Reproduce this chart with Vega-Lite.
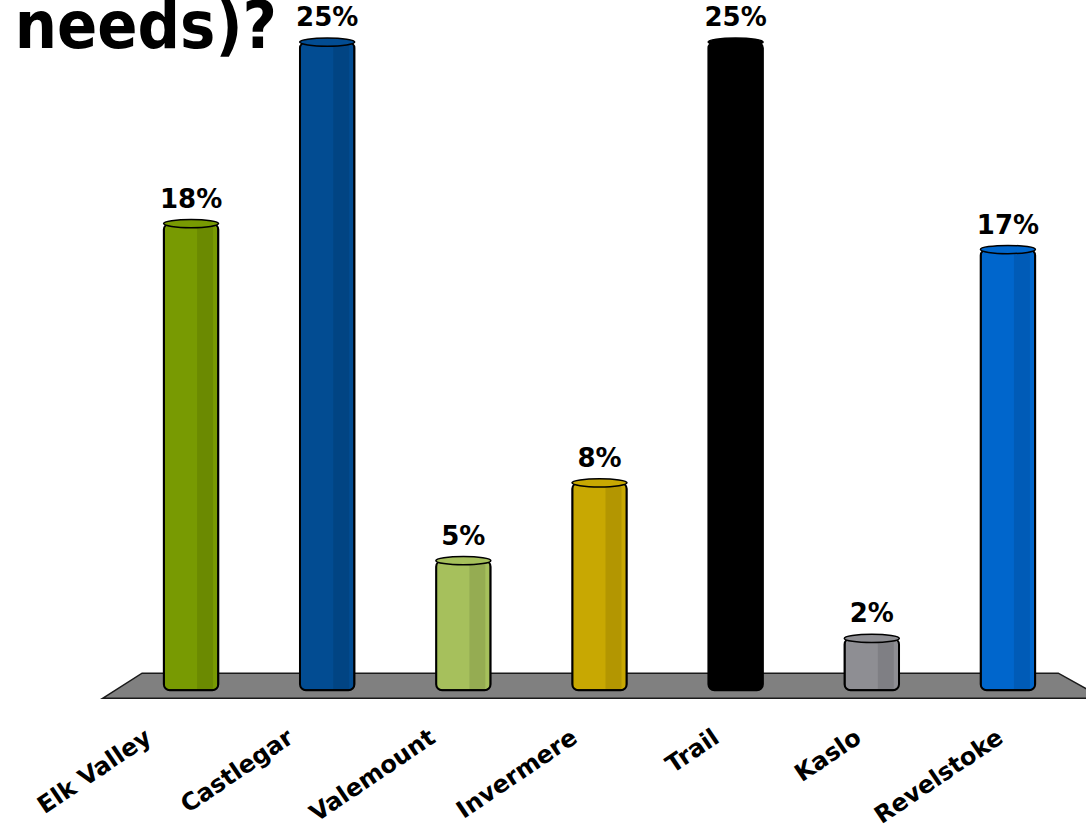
{
  "$schema": "https://vega.github.io/schema/vega-lite/v6.json",
  "width": 953,
  "height": 700,
  "autosize": {"type": "none"},
  "padding": {"left": 123, "top": 11, "right": 10, "bottom": 121},
  "background": "white",
  "config": {"view": {"stroke": null}},
  "title": {
    "text": "e needs)?",
    "anchor": "start",
    "frame": "group",
    "align": "right",
    "dx": 154,
    "dy": 109,
    "offset": 0,
    "baseline": "alphabetic",
    "font": "DejaVu Sans Condensed, DejaVu Sans",
    "fontWeight": "bold",
    "fontSize": 66,
    "color": "#000000"
  },
  "datasets": {
    "bars": [
      {"site": "Elk Valley", "share": 0.18},
      {"site": "Castlegar", "share": 0.25},
      {"site": "Valemount", "share": 0.05},
      {"site": "Invermere", "share": 0.08},
      {"site": "Trail", "share": 0.25},
      {"site": "Kaslo", "share": 0.02},
      {"site": "Revelstoke", "share": 0.17}
    ],
    "floor": [
      {"fx": -0.65, "fy": -0.0031, "fy2": -0.0031},
      {"fx": -0.36, "fy": 0.0066, "fy2": -0.0031},
      {"fx": 6.37, "fy": 0.0066, "fy2": -0.0031},
      {"fx": 6.7, "fy": -0.0031, "fy2": -0.0031}
    ]
  },
  "layer": [
    {
      "data": {"name": "floor"},
      "mark": {"type": "area", "color": "#808080", "stroke": "#1a1a1a", "strokeWidth": 1.5, "interpolate": "linear"},
      "encoding": {
        "x": {"field": "fx", "type": "quantitative", "scale": {"domain": [-0.5, 6.5], "nice": false, "zero": false}, "axis": null},
        "y": {"field": "fy", "type": "quantitative", "scale": {"domain": [-0.008, 0.262], "nice": false, "zero": false}, "axis": null},
        "y2": {"field": "fy2"}
      }
    },
    {
      "data": {"name": "bars"},
      "layer": [
        {
          "mark": {"type": "bar", "stroke": "#000000", "strokeWidth": 2, "cornerRadius": 6},
          "encoding": {
            "y": {"field": "share", "type": "quantitative", "axis": null},
            "color": {
              "field": "site", "type": "nominal", "legend": null,
              "scale": {
                "domain": ["Elk Valley", "Castlegar", "Valemount", "Invermere", "Trail", "Kaslo", "Revelstoke"],
                "range": ["#789a02", "#024c92", "#a6c05c", "#c8a802", "#000000", "#8e8e93", "#0066cc"]
              }
            }
          }
        },
        {
          "mark": {"type": "bar", "color": "#000000", "opacity": 0.1, "width": 16, "xOffset": 14},
          "encoding": {
            "y": {"field": "share", "type": "quantitative", "axis": null}
          }
        },
        {
          "mark": {"type": "point", "filled": true, "size": 3025, "shape": "M-1,0 A1,0.15 0 1,1 1,0 A1,0.15 0 1,1 -1,0 Z", "stroke": "#000000", "strokeWidth": 1.5, "opacity": 1},
          "encoding": {
            "y": {"field": "share", "type": "quantitative", "axis": null},
            "color": {"field": "site", "type": "nominal", "legend": null}
          }
        },
        {
          "mark": {"type": "text", "font": "DejaVu Sans", "fontWeight": "bold", "fontSize": 26, "baseline": "alphabetic", "dy": -16, "color": "#000000"},
          "encoding": {
            "y": {"field": "share", "type": "quantitative", "axis": null},
            "text": {"field": "share", "type": "quantitative", "format": ".0%"}
          }
        }
      ],
      "encoding": {
        "x": {
          "field": "site", "type": "nominal", "sort": null,
          "scale": {"paddingInner": 0.6, "paddingOuter": 0.3},
          "axis": {
            "title": null, "domain": false, "ticks": false,
            "labelAngle": -34, "labelAlign": "right", "labelBaseline": "middle",
            "labelFont": "DejaVu Sans", "labelFontWeight": "bold", "labelFontSize": 24,
            "labelColor": "#000000", "labelPadding": 24,
            "labelOffset": {"expr": "-42 + 35 * datum.index"}
          }
        }
      }
    }
  ],
  "resolve": {"scale": {"x": "independent"}}
}
